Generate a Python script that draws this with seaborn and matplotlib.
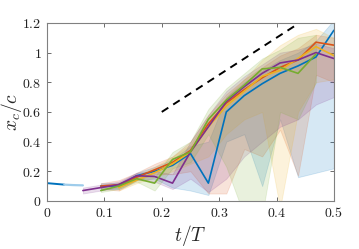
import numpy as np
import pandas as pd
import matplotlib
matplotlib.use('Agg')
import matplotlib.pyplot as plt
import seaborn as sns

# sample times (t/T)
t = [0.0625, 0.09375, 0.125, 0.15625, 0.1875, 0.21875, 0.25, 0.28125,
     0.3125, 0.34375, 0.375, 0.40625, 0.4375, 0.46875, 0.5]
nan = np.nan

# early part of the blue curve
t_early = [0.0, 0.015, 0.03, 0.045, 0.0625]
blue_early = [0.12, 0.115, 0.11, 0.107, 0.105]

series_names = ['blue', 'orange', 'yellow', 'purple', 'green']
colors = [(0, 0.447, 0.741), (0.85, 0.325, 0.098), (0.929, 0.694, 0.125),
          (0.494, 0.184, 0.556), (0.466, 0.674, 0.188)]

mean_blue = [nan, 0.10, 0.10, 0.17, 0.20, 0.24, 0.32, 0.12, 0.60, 0.71, 0.79, 0.86, 0.91, 0.97, 1.15]
mean_orange = [nan, 0.10, 0.11, 0.16, 0.21, 0.26, 0.34, 0.52, 0.66, 0.75, 0.83, 0.90, 0.95, 1.07, 1.05]
mean_yellow = [nan, nan, 0.09, 0.14, 0.19, 0.25, 0.33, 0.50, 0.64, 0.74, 0.84, 0.88, 0.96, 1.04, 0.98]
mean_purple = [0.07, 0.09, 0.11, 0.17, 0.165, 0.12, 0.33, 0.50, 0.67, 0.77, 0.86, 0.93, 0.95, 1.00, 0.96]
mean_green = [nan, 0.07, 0.10, 0.15, 0.12, 0.28, 0.33, 0.55, 0.68, 0.78, 0.89, 0.90, 0.86, 0.99, nan]

low_blue = [nan, 0.08, 0.08, 0.14, 0.15, 0.09, 0.07, 0.04, 0.40, 0.45, 0.10, 0.55, 0.16, 0.19, 0.22]
up_blue = [nan, 0.12, 0.12, 0.19, 0.23, 0.28, 0.37, 0.40, 0.70, 0.80, 0.88, 0.95, 1.00, 1.08, 1.22]
low_orange = [nan, 0.08, 0.07, 0.14, 0.18, 0.18, 0.20, 0.05, 0.05, 0.35, 0.30, 0.48, 0.17, 0.85, 0.80]
up_orange = [nan, 0.12, 0.14, 0.19, 0.25, 0.30, 0.40, 0.58, 0.72, 0.82, 0.90, 0.98, 1.03, 1.12, 1.10]
low_yellow = [nan, nan, 0.07, 0.12, 0.16, 0.20, 0.25, 0.30, 0.45, 0.55, 0.60, -0.05, 0.60, 0.80, 0.82]
up_yellow = [nan, nan, 0.12, 0.17, 0.23, 0.30, 0.38, 0.56, 0.70, 0.82, 0.95, 1.05, 1.12, 1.16, 1.10]
low_purple = [0.05, 0.07, 0.09, 0.15, 0.13, 0.08, 0.15, 0.06, 0.15, 0.30, 0.40, 0.50, 0.55, 0.65, 0.70]
up_purple = [0.09, 0.11, 0.13, 0.19, 0.20, 0.18, 0.40, 0.58, 0.74, 0.84, 0.92, 1.00, 1.02, 1.06, 1.03]
low_green = [nan, 0.06, 0.08, 0.13, 0.07, 0.22, 0.26, 0.45, 0.23, -0.10, -0.10, 0.60, 0.55, 0.80, nan]
up_green = [nan, 0.09, 0.12, 0.17, 0.16, 0.33, 0.40, 0.62, 0.76, 0.86, 0.96, 1.02, 1.10, 1.12, nan]

means = [mean_blue, mean_orange, mean_yellow, mean_purple, mean_green]
lows = [low_blue, low_orange, low_yellow, low_purple, low_green]
ups = [up_blue, up_orange, up_yellow, up_purple, up_green]

# reference slope line
t_ref = [0.2, 0.44]
y_ref = [0.6, 1.2]

sns.set_style('white')
plt.rcParams['mathtext.fontset'] = 'cm'
plt.rcParams['font.family'] = ['DejaVu Serif']

fig = plt.figure(figsize=(3.59, 2.49), dpi=100)
ax = fig.add_axes([0.131, 0.193, 0.799, 0.715])

tt = np.array(t)
for name, c, m, lo, up in zip(series_names, colors, means, lows, ups):
    m, lo, up = np.array(m), np.array(lo), np.array(up)
    ok = ~np.isnan(m)
    ax.fill_between(tt[ok], lo[ok], up[ok], color=c, alpha=0.16, lw=0.6)

ax.plot(t_early[:3], blue_early[:3], color=colors[0], lw=1.4)
ax.plot(t_early[2:], blue_early[2:], color=(0.62, 0.80, 0.92), lw=1.6)

for name, c, m in zip(series_names, colors, means):
    m = np.array(m)
    ok = ~np.isnan(m)
    df = pd.DataFrame({'t': tt[ok], 'x': m[ok]})
    sns.lineplot(data=df, x='t', y='x', color=c, lw=1.2, ax=ax)

ax.plot(t_ref, y_ref, color='black', ls=(0, (4, 3)), lw=1.4)

ax.set_xlim(0, 0.5)
ax.set_ylim(0, 1.2)
xt = [0, 0.1, 0.2, 0.3, 0.4, 0.5]
yt = [0, 0.2, 0.4, 0.6, 0.8, 1, 1.2]
ax.set_xticks(xt)
ax.set_yticks(yt)
ax.set_xticklabels([f'${v:g}$' for v in xt], fontsize=10)
ax.set_yticklabels([f'${v:g}$' for v in yt], fontsize=10)
ax.tick_params(direction='in', length=3, width=0.6, color='#555555',
               top=True, right=True, bottom=True, left=True, pad=4, labelcolor='#222222')
for s in ax.spines.values():
    s.set_color('#808080')
    s.set_linewidth(0.8)
ax.set_xlabel('$t/T$', fontsize=14, labelpad=2)
ax.set_ylabel('$x_c/c$', fontsize=14)
ax.yaxis.set_label_coords(-0.08, 0.5)

fig.savefig('out.png', dpi=100)
